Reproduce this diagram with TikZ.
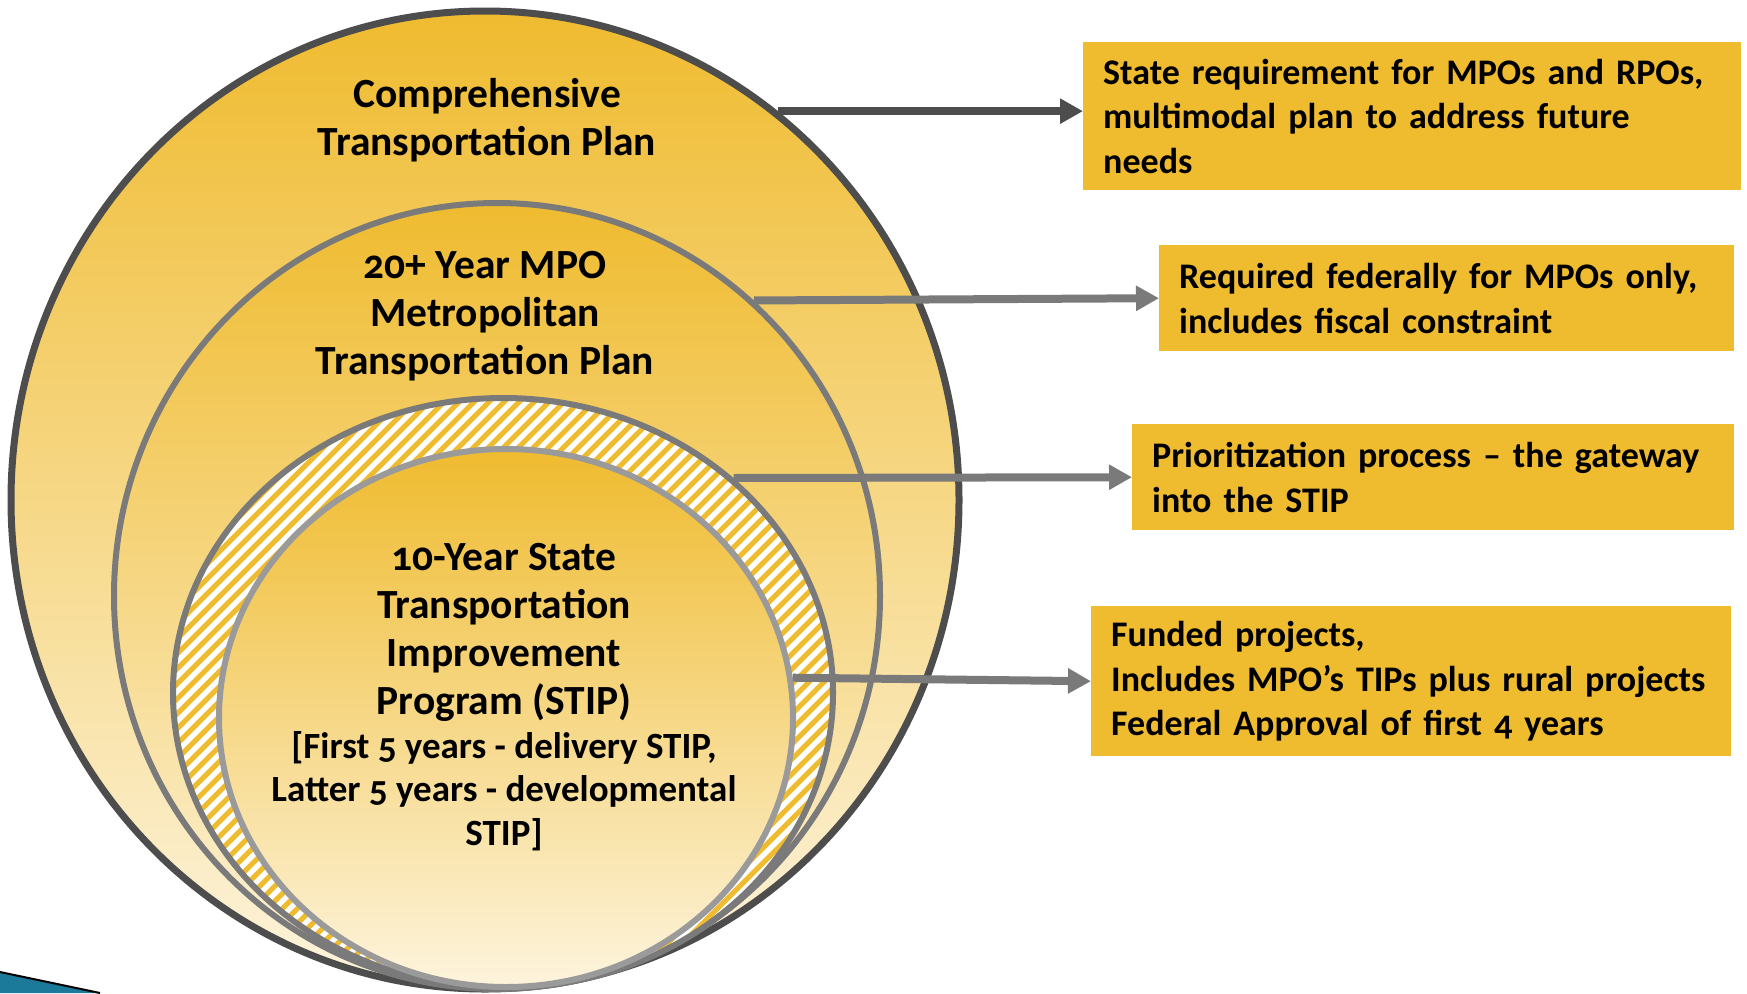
\documentclass[tikz,border=0pt]{standalone}
\usepackage{fontspec}
\setmainfont{Carlito}[Numbers=OldStyle]
\usetikzlibrary{arrows.meta,shapes.geometric,calc}

\definecolor{gold}{HTML}{EFBB2F}
\definecolor{cream}{HTML}{FDF4DD}
\definecolor{darkline}{HTML}{4D4D4D}
\definecolor{midline}{HTML}{7A7A7A}
\definecolor{lightline}{HTML}{9A9A9A}
\definecolor{corner}{HTML}{1B7A9A}

\tikzset{
  plan/.style={ellipse, inner sep=0pt, top color=gold, middle color=gold!80!cream, bottom color=cream, line width=6pt},
  planlabel/.style={align=center, font=\bfseries\fontsize{41.5}{48}\selectfont},
  note/.style={fill=gold, anchor=north west, inner xsep=20pt, inner ysep=0pt, align=left, font=\bfseries\fontsize{36}{44.6}\selectfont},
  link/.style={midline, line width=8pt, -{Triangle[length=23pt,width=24pt]}},
}

\begin{document}
\begin{tikzpicture}[x=1pt, y=-1pt]
\useasboundingbox (0,0) rectangle (1747,993);
% slide corner
\fill[corner] (0,972) -- (100,993) -- (0,993) -- cycle;
\draw[black, line width=2pt] (0,972) -- (100,993);

% nested plans
\node[plan, draw=darkline, line width=7pt, minimum width=948pt, minimum height=978pt] (ctp) at (485,500) {};
\node[plan, draw=midline, minimum width=766pt, minimum height=786pt] (mtp) at (497,596) {};
\node[ellipse, inner sep=0pt, draw=midline, line width=6pt, fill=white, minimum width=660pt, minimum height=590pt,
  path picture={
    \foreach \s in {-630,-615,...,690}
      \draw[gold, line width=5pt] ($(path picture bounding box.south west)+(\s,0)$) -- ++(700,-700);
  }] (gate) at (503,693) {};
\node[plan, draw=lightline, minimum width=574pt, minimum height=538pt] (stip) at (506,718) {};

\node[planlabel] (ctplabel) at (487,120) {Comprehensive\\Transportation Plan};
\node[planlabel] (mtplabel) at (485,316) {20+ Year MPO\\Metropolitan\\Transportation Plan};
\node[planlabel] (stiplabel) at (504,632) {10-Year State\\Transportation\\Improvement\\Program (STIP)};
\node[planlabel, font=\bfseries\fontsize{37}{43.5}\selectfont] (stipyears) at (504,791) {[First 5 years - delivery STIP,\\Latter 5 years - developmental\\STIP]};

% notes
\node[note, text width=618pt, minimum height=148pt] (ctpnote) at (1083,42) {State requirement for MPOs and RPOs,\\multimodal plan to address future\\needs};
\node[note, text width=535pt, minimum height=106pt] (mtpnote) at (1159,245) {Required federally for MPOs only,\\includes fiscal constraint};
\node[note, text width=562pt, minimum height=106pt] (gatenote) at (1132,424) {Prioritization process -- the gateway\\into the STIP};
\node[note, text width=600pt, minimum height=150pt] (stipnote) at (1091,606) {Funded projects,\\Includes MPO's TIPs plus rural projects\\Federal Approval of first 4 years};

\draw[link, darkline] (ctp.53.4) -- (ctp.53.4 -| ctpnote.west);
\draw[link] (mtp.49.8) -- (mtpnote.west);
\draw[link] (gate.43.3) -- (gatenote.west);
\draw[link] (stip.8.6) -- (stipnote.west);
\end{tikzpicture}
\end{document}
